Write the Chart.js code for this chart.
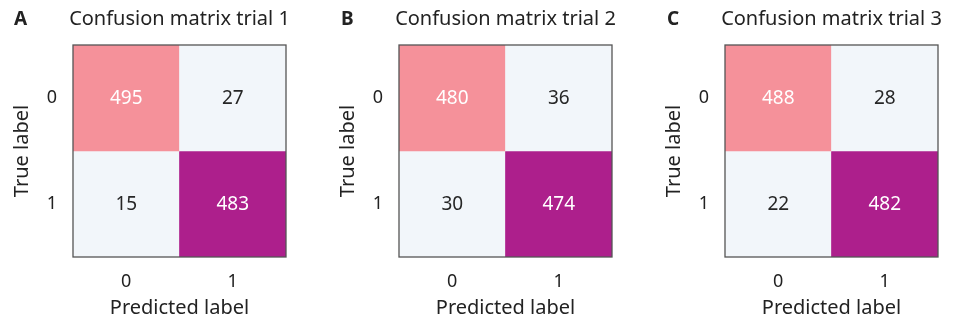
<!DOCTYPE html>
<html>
<head>
<meta charset="utf-8">
<script src="https://cdn.jsdelivr.net/npm/chart.js@4.4.1/dist/chart.umd.min.js"></script>
<style>
  html, body { margin: 0; padding: 0; background: #ffffff; }
  body { width: 957px; height: 320px; position: relative; overflow: hidden; }
  .panel { position: absolute; top: 0; width: 300px; height: 320px; }
</style>
</head>
<body>
<div class="panel" style="left:0px"><canvas id="c1"></canvas></div>
<div class="panel" style="left:326px"><canvas id="c2"></canvas></div>
<div class="panel" style="left:652px"><canvas id="c3"></canvas></div>
<script>
// ---- data ----
const categories = ['0', '1'];
const panelLetters = ['A', 'B', 'C'];
const panelTitles = ['Confusion matrix trial 1', 'Confusion matrix trial 2', 'Confusion matrix trial 3'];
const trial1 = [[495, 27], [15, 483]];
const trial2 = [[480, 36], [30, 474]];
const trial3 = [[488, 28], [22, 482]];
const xAxisTitle = 'Predicted label';
const yAxisTitle = 'True label';

// ---- styling ----
const cellColors = [['#F5919A', '#F2F6FA'], ['#F2F6FA', '#AD1F8C']];
const textColors = [['#ffffff', '#262626'], ['#262626', '#ffffff']];
const FONT = '"Noto Sans", "DejaVu Sans", sans-serif';

const cellLabelPlugin = {
  id: 'cellLabels',
  afterDatasetsDraw(chart) {
    const ctx = chart.ctx;
    ctx.save();
    ctx.font = '19px ' + FONT;
    ctx.textAlign = 'center';
    ctx.textBaseline = 'middle';
    chart.data.datasets.forEach((ds, r) => {
      const meta = chart.getDatasetMeta(r);
      meta.data.forEach((el, c) => {
        ctx.fillStyle = textColors[r][c];
        ctx.fillText(String(ds.cellValues[c]), el.x, (el.y + el.base) / 2 + 1);
      });
    });
    const a = chart.chartArea;
    ctx.strokeStyle = '#555555';
    ctx.lineWidth = 1.3;
    ctx.strokeRect(a.left, a.top, a.right - a.left, a.bottom - a.top);
    ctx.restore();
  }
};

const headerPlugin = {
  id: 'header',
  afterDraw(chart) {
    const o = chart.options.plugins.header;
    const ctx = chart.ctx;
    const a = chart.chartArea;
    ctx.save();
    ctx.fillStyle = '#222222';
    ctx.textBaseline = 'alphabetic';
    ctx.font = 'bold 19px ' + FONT;
    ctx.textAlign = 'left';
    ctx.fillText(o.letter, o.letterX, 25);
    ctx.font = '20px ' + FONT;
    ctx.textAlign = 'center';
    ctx.fillText(o.title, (a.left + a.right) / 2, 25);
    ctx.restore();
  }
};

function makeChart(id, matrix, letter, title, letterX) {
  const datasets = matrix.map((row, r) => ({
    label: 'True ' + categories[r],
    data: row.map(() => [r - 0.5, r + 0.5]),
    cellValues: row,
    backgroundColor: cellColors[r],
    borderWidth: 0,
    barPercentage: 1.0,
    categoryPercentage: 1.0,
    grouped: false
  }));
  return new Chart(document.getElementById(id), {
    type: 'bar',
    data: { labels: categories, datasets },
    plugins: [cellLabelPlugin, headerPlugin],
    options: {
      responsive: false,
      animation: false,
      maintainAspectRatio: false,
      layout: { padding: { top: 45, right: 14, left: 0, bottom: 0 } },
      plugins: {
        legend: { display: false },
        tooltip: { enabled: false },
        header: { letter, title, letterX }
      },
      scales: {
        x: {
          type: 'category',
          offset: true,
          grid: { display: false, drawTicks: false },
          border: { display: false },
          ticks: { color: '#222222', font: { family: FONT, size: 18 }, padding: 14 },
          title: { display: true, text: xAxisTitle, color: '#222222', font: { family: FONT, size: 20 }, padding: { top: 0, bottom: 0 } },
          afterFit(scale) { scale.height = 63; }
        },
        y: {
          type: 'linear',
          min: -0.5,
          max: 1.5,
          reverse: true,
          grid: { display: false, drawTicks: false },
          border: { display: false },
          afterBuildTicks(scale) { scale.ticks = categories.map((_, i) => ({ value: i })); },
          ticks: { color: '#222222', font: { family: FONT, size: 18 }, padding: 16,
                   callback: (v) => categories[v] },
          title: { display: true, text: yAxisTitle, color: '#222222', font: { family: FONT, size: 20 }, padding: { top: 10, bottom: 0 } },
          afterFit(scale) { scale.width = 73; }
        }
      }
    }
  });
}

function sizeCanvas(id) {
  const c = document.getElementById(id);
  c.width = 300; c.height = 320;
  c.style.width = '300px'; c.style.height = '320px';
}
['c1', 'c2', 'c3'].forEach(sizeCanvas);
makeChart('c1', trial1, panelLetters[0], panelTitles[0], 14);
makeChart('c2', trial2, panelLetters[1], panelTitles[1], 15);
makeChart('c3', trial3, panelLetters[2], panelTitles[2], 15);
</script>
</body>
</html>
